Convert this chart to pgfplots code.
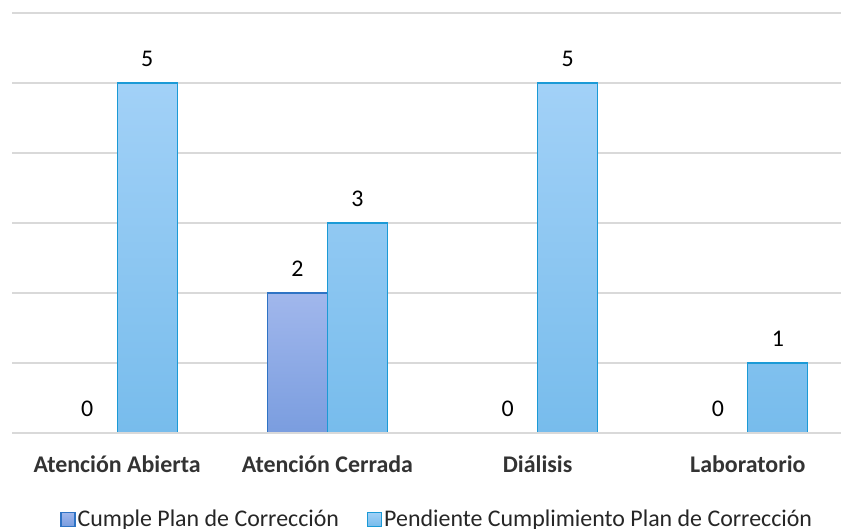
\documentclass[border=0pt]{standalone}
\usepackage{pgfplots}
\pgfplotsset{compat=1.18}
\usepackage{fontspec}
\setmainfont{Carlito}

\definecolor{cumpleTop}{HTML}{A1B7EC}
\definecolor{cumpleBot}{HTML}{7A9DDF}
\definecolor{cumpleLine}{HTML}{2F73C4}
\definecolor{pendTop}{HTML}{A2D1F7}
\definecolor{pendBot}{HTML}{77BCEC}
\definecolor{pendLine}{HTML}{1B9AD6}
\definecolor{gridgray}{HTML}{D9D9D9}

\begin{document}
\begin{tikzpicture}
\useasboundingbox (0,0) rectangle (841bp,529bp);
\begin{axis}[
    at={(12bp,96bp)}, anchor=south west,
    scale only axis,
    width=829bp, height=420bp,
    ybar=0pt, bar width=60bp,
    xmin=-0.5, xmax=3.443,
    ymin=0, ymax=6,
    ytick={0,1,2,3,4,5,6},
    yticklabels={},
    ymajorgrids,
    grid style={gridgray, line width=1.1bp},
    axis x line*=bottom,
    axis y line*=left,
    y axis line style={draw=none},
    x axis line style={gridgray, line width=1.1bp, -},
    xtick=data,
    xticklabels={Atención Abierta, Atención Cerrada, Diálisis, Laboratorio},
    major tick length=0pt,
    /pgf/number format/assume math mode=true,
    x tick label style={font=\fontsize{24}{28}\selectfont\bfseries, text=black!80, anchor=base, yshift=-39bp},
    nodes near coords,
    nodes near coords style={font=\fontsize{24}{28}\selectfont, text=black, anchor=base, yshift=16.5bp},
    legend columns=2,
    legend style={at={(0.513,-0.205)}, anchor=center, draw=none,
        font=\fontsize{24}{28}\selectfont, text=black!85,
        nodes={inner sep=2bp},
        /tikz/every even column/.append style={column sep=26bp}},
    legend image code/.code={\draw[#1] (0bp,-7bp) rectangle (14bp,7bp);},
]
\addplot[draw=cumpleLine, line width=1.2bp, top color=cumpleTop, bottom color=cumpleBot]
    coordinates {(0,0) (1,2) (2,0) (3,0)};
\addplot[draw=pendLine, line width=1.2bp, top color=pendTop, bottom color=pendBot]
    coordinates {(0,5) (1,3) (2,5) (3,1)};
\draw[gridgray, line width=1.3bp] (axis cs:-0.5,0) -- (axis cs:3.443,0);
\legend{Cumple Plan de Corrección, Pendiente Cumplimiento Plan de Corrección}
\end{axis}
\end{tikzpicture}
\end{document}
